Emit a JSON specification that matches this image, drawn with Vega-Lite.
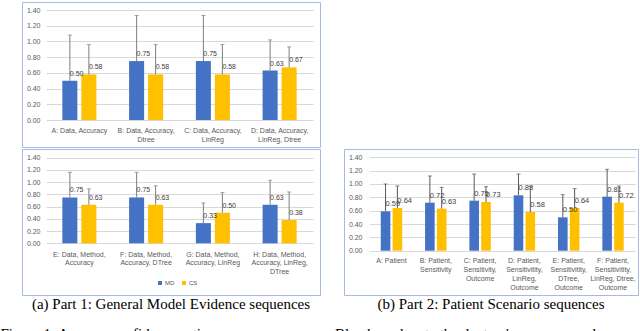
{
  "$schema": "https://vega.github.io/schema/vega-lite/v6.json",
  "padding": {"left": 0, "top": 1, "right": 0, "bottom": 0},
  "background": "white",
  "config": {
    "font": "Liberation Sans",
    "view": {"stroke": "#a6b9e2", "strokeWidth": 1},
    "axis": {"labelFont": "Liberation Sans", "labelColor": "#595959", "labelFontSize": 7, "minExtent": 0},
    "axisY": {"labelOverlap": false, "labelBound": false, "labelFlush": false},
    "axisQuantitative": {"labelOverlap": false},
    "title": {"font": "Liberation Serif", "fontSize": 15, "fontWeight": "normal", "color": "#000000"}
  },
  "datasets": {
    "p1a": [
      {"seq": "A: Data, Accuracy", "group": "MD", "value": 0.50, "upper": 1.08},
      {"seq": "A: Data, Accuracy", "group": "CS", "value": 0.58, "upper": 0.96},
      {"seq": "B: Data, Accuracy,|Dtree", "group": "MD", "value": 0.75, "upper": 1.33},
      {"seq": "B: Data, Accuracy,|Dtree", "group": "CS", "value": 0.58, "upper": 0.96},
      {"seq": "C: Data, Accuracy,|LinReg", "group": "MD", "value": 0.75, "upper": 1.33},
      {"seq": "C: Data, Accuracy,|LinReg", "group": "CS", "value": 0.58, "upper": 0.96},
      {"seq": "D: Data, Accuracy,|LinReg, Dtree", "group": "MD", "value": 0.63, "upper": 1.02},
      {"seq": "D: Data, Accuracy,|LinReg, Dtree", "group": "CS", "value": 0.67, "upper": 0.93}
    ],
    "p1b": [
      {"seq": "E: Data, Method,|Accuracy", "group": "MD", "value": 0.75, "upper": 1.16},
      {"seq": "E: Data, Method,|Accuracy", "group": "CS", "value": 0.63, "upper": 0.89},
      {"seq": "F: Data, Method,|Accuracy, DTree", "group": "MD", "value": 0.75, "upper": 1.16},
      {"seq": "F: Data, Method,|Accuracy, DTree", "group": "CS", "value": 0.63, "upper": 0.94},
      {"seq": "G: Data, Method,|Accuracy, LinReg", "group": "MD", "value": 0.33, "upper": 0.66},
      {"seq": "G: Data, Method,|Accuracy, LinReg", "group": "CS", "value": 0.50, "upper": 0.83},
      {"seq": "H: Data, Method,|Accuracy, LinReg,|DTree", "group": "MD", "value": 0.63, "upper": 1.03},
      {"seq": "H: Data, Method,|Accuracy, LinReg,|DTree", "group": "CS", "value": 0.38, "upper": 0.84}
    ],
    "p2": [
      {"seq": "A: Patient", "group": "MD", "value": 0.59, "upper": 1.00},
      {"seq": "A: Patient", "group": "CS", "value": 0.64, "upper": 0.97},
      {"seq": "B: Patient,|Sensitivity", "group": "MD", "value": 0.72, "upper": 1.12},
      {"seq": "B: Patient,|Sensitivity", "group": "CS", "value": 0.63, "upper": 0.95},
      {"seq": "C: Patient,|Sensitivity,|Outcome", "group": "MD", "value": 0.75, "upper": 1.15},
      {"seq": "C: Patient,|Sensitivity,|Outcome", "group": "CS", "value": 0.73, "upper": 0.96},
      {"seq": "D: Patient,|Sensitivitity,|LinReg,|Outcome", "group": "MD", "value": 0.83, "upper": 1.15},
      {"seq": "D: Patient,|Sensitivitity,|LinReg,|Outcome", "group": "CS", "value": 0.58, "upper": 0.96},
      {"seq": "E: Patient,|Sensitivitity,|DTree,|Outcome", "group": "MD", "value": 0.50, "upper": 0.84},
      {"seq": "E: Patient,|Sensitivitity,|DTree,|Outcome", "group": "CS", "value": 0.64, "upper": 0.93},
      {"seq": "F: Patient,|Sensitivitity,|LinReg, Dtree,|Outcome", "group": "MD", "value": 0.81, "upper": 1.22},
      {"seq": "F: Patient,|Sensitivitity,|LinReg, Dtree,|Outcome", "group": "CS", "value": 0.72, "upper": 0.97}
    ]
  },
  "title": {
    "text": "Figure 1: Average confidence ratings across sequences. Blue bars denote the doctors' responses and",
    "orient": "bottom", "anchor": "start", "dx": -21, "offset": 14, "fontSize": 15
  },
  "spacing": 0,
  "resolve": {"scale": {"x": "independent", "y": "independent", "xOffset": "independent"}, "legend": {"color": "independent"}},
  "vconcat": [
    {
      "width": 298, "height": 145,
      "data": {"name": "p1a"},
      "encoding": {
        "x": {"field": "seq", "type": "nominal", "sort": null,
          "scale": {"range": [24, 291], "paddingInner": 0.49, "paddingOuter": 0.245},
          "axis": {"title": null, "labelExpr": "split(datum.label, '|')", "offset": -23, "labelPadding": 2, "labelAngle": 0, "domain": false, "ticks": false, "labelLineHeight": 9.3, "labelBaseline": "top", "minExtent": 0}},
        "xOffset": {"field": "group", "type": "nominal", "sort": ["MD", "CS"], "scale": {"paddingInner": 0.21, "paddingOuter": 0}},
        "y": {"field": "value", "type": "quantitative", "scale": {"domain": [0, 1.4], "range": [118, 8], "nice": false},
          "axis": {"title": null, "values": [0, 0.2, 0.4, 0.6, 0.8, 1.0, 1.2, 1.4], "format": ".2f", "offset": -22, "labelPadding": 4, "domain": false, "ticks": false, "grid": true, "gridColor": "#d9d9d9", "labelOverlap": false, "minExtent": 0}}
      },
      "layer": [
        {"mark": {"type": "bar"},
         "encoding": {
           "color": {"field": "group", "type": "nominal", "scale": {"domain": ["MD", "CS"], "range": ["#4472C4", "#FFC000"]}, "legend": null}}},
        {"mark": {"type": "rule", "color": "#7f7f7f", "strokeWidth": 1}, "encoding": {"y2": {"field": "upper"}}},
        {"mark": {"type": "tick", "color": "#7f7f7f", "size": 4, "thickness": 1}, "encoding": {"y": {"field": "upper", "type": "quantitative"}}},
        {"mark": {"type": "text", "align": "left", "baseline": "middle", "dy": -7, "fontSize": 7, "color": "#404040"},
         "encoding": {"text": {"field": "value", "type": "quantitative", "format": ".2f"}}}
      ]
    },
    {
      "spacing": 22,
      "resolve": {"scale": {"x": "independent", "y": "independent", "xOffset": "independent"}, "legend": {"color": "independent"}},
      "hconcat": [
        {
          "width": 298, "height": 146,
          "title": {"text": "(a) Part 1: General Model Evidence sequences", "orient": "bottom", "anchor": "middle", "offset": 2},
          "data": {"name": "p1b"},
          "encoding": {
            "x": {"field": "seq", "type": "nominal", "sort": null,
              "scale": {"range": [24, 291], "paddingInner": 0.49, "paddingOuter": 0.245},
              "axis": {"title": null, "labelExpr": "split(datum.label, '|')", "offset": -47, "labelPadding": 2, "labelAngle": 0, "domain": false, "ticks": false, "labelLineHeight": 8.6, "labelBaseline": "top", "minExtent": 0}},
            "xOffset": {"field": "group", "type": "nominal", "sort": ["MD", "CS"], "scale": {"paddingInner": 0.21, "paddingOuter": 0}},
            "y": {"field": "value", "type": "quantitative", "scale": {"domain": [0, 1.4], "range": [94.3, 8.7], "nice": false},
              "axis": {"title": null, "values": [0, 0.2, 0.4, 0.6, 0.8, 1.0, 1.2, 1.4], "format": ".2f", "offset": -22, "labelPadding": 4, "domain": false, "ticks": false, "grid": true, "gridColor": "#d9d9d9", "labelOverlap": false, "minExtent": 0}}
          },
          "layer": [
            {"mark": {"type": "bar"},
             "encoding": {
               "color": {"field": "group", "type": "nominal", "scale": {"domain": ["MD", "CS"], "range": ["#4472C4", "#FFC000"]},
                 "legend": {"orient": "none", "legendX": 135, "legendY": 131, "direction": "horizontal", "title": null, "symbolType": "square", "symbolSize": 16, "symbolStrokeWidth": 0, "labelFontSize": 6, "labelColor": "#595959", "columnPadding": 6, "labelOffset": 2}}}},
            {"mark": {"type": "rule", "color": "#7f7f7f", "strokeWidth": 1}, "encoding": {"y2": {"field": "upper"}}},
            {"mark": {"type": "tick", "color": "#7f7f7f", "size": 4, "thickness": 1}, "encoding": {"y": {"field": "upper", "type": "quantitative"}}},
            {"mark": {"type": "text", "align": "left", "baseline": "middle", "dy": -7, "fontSize": 7, "color": "#404040"},
             "encoding": {"text": {"field": "value", "type": "quantitative", "format": ".2f"}}}
          ]
        },
        {
          "width": 294, "height": 146,
          "title": {"text": "(b) Part 2: Patient Scenario sequences", "orient": "bottom", "anchor": "middle", "offset": 2},
          "data": {"name": "p2"},
          "encoding": {
            "x": {"field": "seq", "type": "nominal", "sort": null,
              "scale": {"range": [25.3, 291.2], "paddingInner": 0.517, "paddingOuter": 0.2585},
              "axis": {"title": null, "labelExpr": "split(datum.label, '|')", "offset": -41, "labelPadding": 2, "labelAngle": 0, "domain": false, "ticks": false, "labelLineHeight": 9, "labelBaseline": "top", "minExtent": 0}},
            "xOffset": {"field": "group", "type": "nominal", "sort": ["MD", "CS"], "scale": {"paddingInner": 0.19, "paddingOuter": 0}},
            "y": {"field": "value", "type": "quantitative", "scale": {"domain": [0, 1.4], "range": [101.7, 8.3], "nice": false},
              "axis": {"title": null, "values": [0, 0.2, 0.4, 0.6, 0.8, 1.0, 1.2, 1.4], "format": ".2f", "offset": -22, "labelPadding": 4, "domain": false, "ticks": false, "grid": true, "gridColor": "#d9d9d9", "labelOverlap": false, "minExtent": 0}}
          },
          "layer": [
            {"mark": {"type": "bar"},
             "encoding": {
               "color": {"field": "group", "type": "nominal", "scale": {"domain": ["MD", "CS"], "range": ["#4472C4", "#FFC000"]}, "legend": null}}},
            {"mark": {"type": "rule", "color": "#595959", "strokeWidth": 1}, "encoding": {"y2": {"field": "upper"}}},
            {"mark": {"type": "tick", "color": "#595959", "size": 4, "thickness": 1}, "encoding": {"y": {"field": "upper", "type": "quantitative"}}},
            {"mark": {"type": "text", "align": "left", "baseline": "middle", "dy": -7, "fontSize": 7.5, "color": "#404040"},
             "encoding": {"text": {"field": "value", "type": "quantitative", "format": ".2f"}}}
          ]
        }
      ]
    }
  ]
}
